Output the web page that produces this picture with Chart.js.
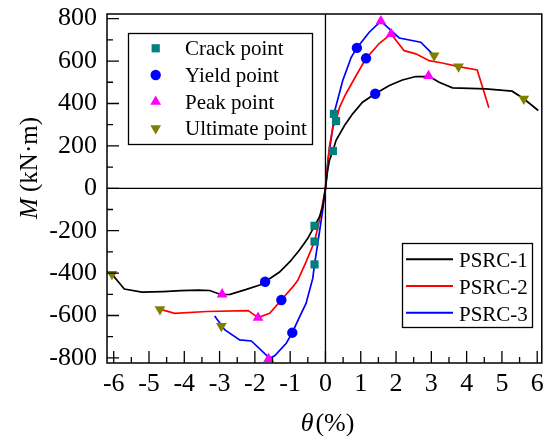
<!DOCTYPE html>
<html>
<head>
<meta charset="utf-8">
<script src="https://cdn.jsdelivr.net/npm/chart.js"></script>
<style>
    html, body { margin: 0; padding: 0; background: #ffffff; }
    #wrap { width: 548px; height: 436px; }
</style>
</head>
<body>
<div id="wrap"><canvas id="mCurve" width="548" height="436"></canvas></div>
<script>
    // Axis ticks
    const thetaTicks = [-6, -5, -4, -3, -2, -1, 0, 1, 2, 3, 4, 5, 6];
    const momentTicks = [-800, -600, -400, -200, 0, 200, 400, 600, 800];

    // Skeleton curves, drift theta (%) vs moment M (kN·m)
    const seriesNames = ['PSRC-1', 'PSRC-2', 'PSRC-3'];
    const seriesColors = ['#000000', '#ff0000', '#0000ff'];

    const psrc1Theta = [-6.05, -5.70, -5.20, -4.60, -4.10, -3.60, -3.28, -2.95, -2.70, -2.24, -1.86, -1.71, -1.30, -1.00, -0.73, -0.50, -0.31, -0.17, -0.08, 0,
        0.05, 0.11, 0.21, 0.30, 0.54, 0.77, 1.05, 1.41, 1.81, 2.18, 2.56, 2.80, 2.92, 3.22, 3.60, 4.54, 5.29, 5.62, 6.03];
    const psrc1M = [-405, -475, -490, -487, -483, -480, -482, -502, -500, -477, -456, -441, -395, -345, -290, -236, -177, -135, -88, 0,
        70, 130, 176, 226, 296, 351, 406, 446, 485, 511, 527, 527, 530, 500, 474, 469, 458, 422, 367];

    const psrc2Theta = [-4.65, -4.27, -3.37, -2.19, -1.91, -1.58, -1.25, -0.92, -0.78, -0.55, -0.31, -0.17, 0,
        0.11, 0.21, 0.30, 0.40, 0.58, 0.87, 1.15, 1.53, 1.86, 2.23, 2.56, 2.94, 3.31, 3.77, 4.30, 4.63];
    const psrc2M = [-572, -590, -581, -577, -610, -590, -527, -464, -433, -347, -251, -150, 0,
        194, 289, 317, 383, 446, 532, 613, 684, 728, 649, 634, 602, 591, 574, 558, 380];

    const psrc3Theta = [-3.14, -2.85, -2.43, -2.10, -1.63, -1.58, -1.44, -1.11, -0.94, -0.73, -0.55, -0.36, -0.31, -0.20, -0.08, 0,
        0.07, 0.21, 0.24, 0.49, 0.73, 0.89, 1.24, 1.57, 2.09, 2.70, 3.08];
    const psrc3M = [-602, -668, -715, -720, -794, -802, -790, -731, -681, -605, -543, -425, -359, -240, -105, 0,
        132, 288, 351, 508, 618, 662, 736, 788, 709, 689, 626];

    // Characteristic points
    const crackTheta = [0.21, 0.24, 0.30, -0.31, -0.31, -0.31];
    const crackM = [176, 351, 317, -177, -251, -359];
    const yieldTheta = [1.41, 1.15, 0.89, -1.71, -1.25, -0.94];
    const yieldM = [446, 613, 662, -441, -527, -681];
    const peakTheta = [2.92, 1.86, 1.57, -2.93, -1.91, -1.61];
    const peakM = [530, 728, 788, -500, -610, -805];
    const ultimateTheta = [5.62, 3.77, 3.08, -6.05, -4.69, -2.95];
    const ultimateM = [422, 574, 626, -405, -571, -650];

    const pointNames = ['Crack point', 'Yield point', 'Peak point', 'Ultimate point'];

    const serif = '"Liberation Serif", "Times New Roman", serif';

    function toXY(xs, ys) {
        return xs.map((v, i) => ({ x: v, y: ys[i] }));
    }

    const curves = [
        toXY(psrc1Theta, psrc1M),
        toXY(psrc2Theta, psrc2M),
        toXY(psrc3Theta, psrc3M)
    ];

    const lineSets = curves.map((data, i) => ({
        label: seriesNames[i],
        data: data,
        showLine: true,
        borderColor: seriesColors[i],
        borderWidth: 1.7,
        pointRadius: 0,
        pointHoverRadius: 0,
        tension: 0,
        order: 2
    }));

    const markerSets = [
        { label: pointNames[0], data: toXY(crackTheta, crackM), pointStyle: 'rect', pointRadius: 5.8, pointRotation: 0, backgroundColor: '#008080' },
        { label: pointNames[1], data: toXY(yieldTheta, yieldM), pointStyle: 'circle', pointRadius: 5.2, pointRotation: 0, backgroundColor: '#0000ff' },
        { label: pointNames[2], data: toXY(peakTheta, peakM), pointStyle: 'triangle', pointRadius: 6.2, pointRotation: 0, backgroundColor: '#ff00ff' },
        { label: pointNames[3], data: toXY(ultimateTheta, ultimateM), pointStyle: 'triangle', pointRadius: 6.2, pointRotation: 180, backgroundColor: '#808000' }
    ].map(d => Object.assign(d, { showLine: false, borderWidth: 0, pointBorderWidth: 0, pointBackgroundColor: d.backgroundColor, clip: false, order: 1 }));

    function markerAt(ctx, set, x, y) {
        ctx.save();
        ctx.fillStyle = set.backgroundColor;
        Chart.helpers.drawPoint(ctx, { pointStyle: set.pointStyle, radius: set.pointRadius, rotation: set.pointRotation, borderWidth: 0 }, x, y);
        ctx.restore();
    }

    // frame, zero lines, inward ticks, legends and axis titles
    const decorations = {
        id: 'decorations',
        beforeDatasetsDraw(chart) {
            const { ctx, chartArea: a, scales: { x, y } } = chart;
            const x0 = x.getPixelForValue(0);
            const y0 = y.getPixelForValue(0);
            ctx.save();
            ctx.strokeStyle = '#000';
            ctx.lineWidth = 1.3;
            ctx.beginPath();
            ctx.moveTo(a.left, y0); ctx.lineTo(a.right, y0);
            ctx.moveTo(x0, a.top); ctx.lineTo(x0, a.bottom);
            ctx.stroke();
            ctx.restore();
        },
        afterDatasetsDraw(chart) {
            const { ctx, chartArea: a, scales: { x, y } } = chart;
            ctx.save();
            ctx.strokeStyle = '#000';
            ctx.lineWidth = 1.3;
            ctx.beginPath();
            thetaTicks.forEach((t, i) => {
                const px = x.getPixelForValue(t);
                ctx.moveTo(px, a.bottom); ctx.lineTo(px, a.bottom - 12);
                if (i > 0) {
                    const mx = x.getPixelForValue((t + thetaTicks[i - 1]) / 2);
                    ctx.moveTo(mx, a.bottom); ctx.lineTo(mx, a.bottom - 6);
                }
            });
            momentTicks.forEach((m, i) => {
                const py = y.getPixelForValue(m);
                ctx.moveTo(a.left, py); ctx.lineTo(a.left + 12, py);
                if (i > 0) {
                    const my = y.getPixelForValue((m + momentTicks[i - 1]) / 2);
                    ctx.moveTo(a.left, my); ctx.lineTo(a.left + 6, my);
                }
            });
            ctx.stroke();
            ctx.lineWidth = 1.5;
            ctx.strokeRect(a.left, a.top, a.right - a.left, a.bottom - a.top);
            ctx.restore();
        },
        afterDraw(chart) {
            const ctx = chart.ctx;
            ctx.save();
            ctx.fillStyle = '#000';
            ctx.strokeStyle = '#000';
            ctx.lineWidth = 1.3;

            // point legend
            ctx.strokeRect(128.5, 33.5, 184, 111);
            ctx.font = '21px ' + serif;
            ctx.textBaseline = 'alphabetic';
            ctx.textAlign = 'left';
            markerSets.forEach((set, i) => {
                const cy = 48.3 + i * 26.7;
                markerAt(ctx, set, 155.7, cy);
                ctx.fillStyle = '#000';
                ctx.fillText(set.label, 185, cy + 7);
            });

            // series legend
            ctx.strokeRect(402.5, 243.5, 130, 84);
            lineSets.forEach((set, i) => {
                const cy = 259.3 + i * 26.7;
                ctx.strokeStyle = set.borderColor;
                ctx.lineWidth = 2;
                ctx.beginPath();
                ctx.moveTo(406, cy); ctx.lineTo(453, cy);
                ctx.stroke();
                ctx.fillStyle = '#000';
                ctx.fillText(set.label, 459, cy + 8);
            });

            // y title: M (kN·m)
            ctx.save();
            ctx.translate(37, 168);
            ctx.rotate(-Math.PI / 2);
            const italic = 'italic 25px ' + serif;
            const upright = '25px ' + serif;
            ctx.font = italic;
            const wM = ctx.measureText('M').width;
            ctx.font = upright;
            const wRest = ctx.measureText(' (kN·m)').width;
            let sx = -(wM + wRest) / 2;
            ctx.font = italic;
            ctx.fillText('M', sx, 0);
            ctx.font = upright;
            ctx.fillText(' (kN·m)', sx + wM, 0);
            ctx.restore();

            // x title: θ (%)
            const tFont = 'italic 26px ' + serif;
            const pFont = '26px ' + serif;
            ctx.font = tFont;
            const wT = ctx.measureText('θ').width;
            ctx.font = pFont;
            const wP = ctx.measureText('(%)').width;
            const gap = 2;
            let bx = 327.5 - (wT + gap + wP) / 2;
            ctx.font = tFont;
            ctx.fillText('θ', bx, 431);
            ctx.font = pFont;
            ctx.fillText('(%)', bx + wT + gap, 431);

            ctx.restore();
        }
    };

    new Chart(document.getElementById('mCurve'), {
        type: 'scatter',
        data: { datasets: lineSets.concat(markerSets) },
        options: {
            responsive: false,
            devicePixelRatio: 1,
            animation: false,
            events: [],
            layout: { padding: { left: 0, top: 14, right: 5, bottom: 0 } },
            plugins: {
                legend: { display: false },
                tooltip: { enabled: false }
            },
            scales: {
                x: {
                    type: 'linear',
                    min: -6.19,
                    max: 6.13,
                    grid: { display: false, drawTicks: false },
                    border: { display: false },
                    afterBuildTicks: s => { s.ticks = thetaTicks.map(v => ({ value: v })); },
                    afterFit: s => { s.height = 73; s.paddingLeft = 0; s.paddingRight = 0; },
                    ticks: {
                        padding: 6,
                        color: '#000',
                        font: { family: serif, size: 26 },
                        callback: v => String(v)
                    }
                },
                y: {
                    type: 'linear',
                    min: -824,
                    max: 822,
                    grid: { display: false, drawTicks: false },
                    border: { display: false },
                    afterBuildTicks: s => { s.ticks = momentTicks.map(v => ({ value: v })); },
                    afterFit: s => { s.width = 107; s.paddingTop = 0; s.paddingBottom = 0; },
                    ticks: {
                        padding: 10,
                        color: '#000',
                        font: { family: serif, size: 26 },
                        callback: v => String(v)
                    }
                }
            }
        },
        plugins: [decorations]
    });
</script>
</body>
</html>
